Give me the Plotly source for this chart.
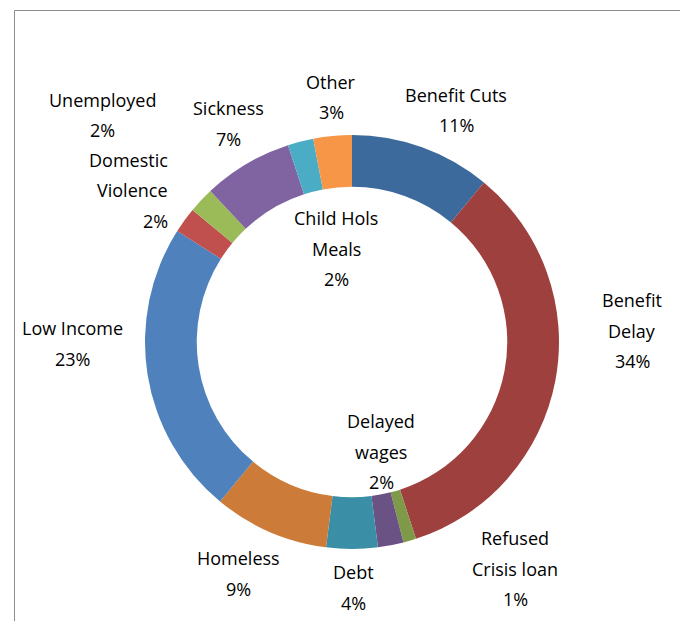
import plotly.graph_objects as go

# ---- data ----
categories = ["Benefit Cuts", "Benefit Delay", "Refused Crisis loan", "Delayed wages",
              "Debt", "Homeless", "Low Income", "Domestic Violence", "Unemployed",
              "Sickness", "Child Hols Meals", "Other"]
percent = [11, 34, 1, 2, 4, 9, 23, 2, 2, 7, 2, 3]
label_lines = [["Benefit Cuts"], ["Benefit", "Delay"], ["Refused", "Crisis loan"],
               ["Delayed", "wages"], ["Debt"], ["Homeless"], ["Low Income"],
               ["Domestic", "Violence"], ["Unemployed"], ["Sickness"],
               ["Child Hols", "Meals"], ["Other"]]

# ---- styles / layout ----
colors = ["#3D6A9C", "#9E413E", "#7E9A48", "#6A5284", "#3A8EA5", "#CD7B38",
          "#4F81BD", "#C0504D", "#9BBB59", "#8064A2", "#4BACC6", "#F79646"]
# label anchor (x px, first-line y px, xanchor) in window pixels
label_pos = [(456, 95, "center"), (632, 300, "center"), (515, 538, "center"),
             (381, 421, "center"), (353, 572, "center"), (238, 558, "center"),
             (72, 328, "center"), (170, 160, "right"), (102, 100, "center"),
             (228, 108, "center"), (336, 218, "center"), (331, 82, "center")]

W, H = 688, 621
OFF = 8  # page body margin
CX, CY, R = 352, 342, 207
LINE = 30.5


def px(x):
    return (x - OFF) / W


def py(y):
    return (H - (y - OFF)) / H


fig = go.Figure(go.Pie(
    labels=categories,
    values=percent,
    sort=False,
    direction="clockwise",
    rotation=0,
    hole=0.75,
    textinfo="none",
    hoverinfo="label+percent",
    marker=dict(colors=colors, line=dict(width=0)),
    domain=dict(x=[px(CX - R), px(CX + R)], y=[py(CY + R), py(CY - R)]),
    showlegend=False,
))

annotations = []
for lines, v, (x, y, anc) in zip(label_lines, percent, label_pos):
    all_lines = lines + [f"{v}%"]
    for i, t in enumerate(all_lines):
        annotations.append(dict(
            x=px(x), y=py(y + i * LINE), xref="paper", yref="paper",
            text=t, showarrow=False, xanchor=anc, yanchor="middle",
            font=dict(family="Open Sans, Lato, sans-serif", size=18, color="#000000"),
        ))

fig.update_layout(
    width=W, height=H,
    margin=dict(l=0, r=0, t=0, b=0),
    paper_bgcolor="white",
    plot_bgcolor="white",
    annotations=annotations,
    shapes=[dict(type="path", xref="paper", yref="paper",
                 path=f"M {px(14.5)} 0 L {px(14.5)} {py(10.5)} L 1 {py(10.5)}",
                 line=dict(color="#8C8C8C", width=1))],
)

fig.write_html("out.html")
